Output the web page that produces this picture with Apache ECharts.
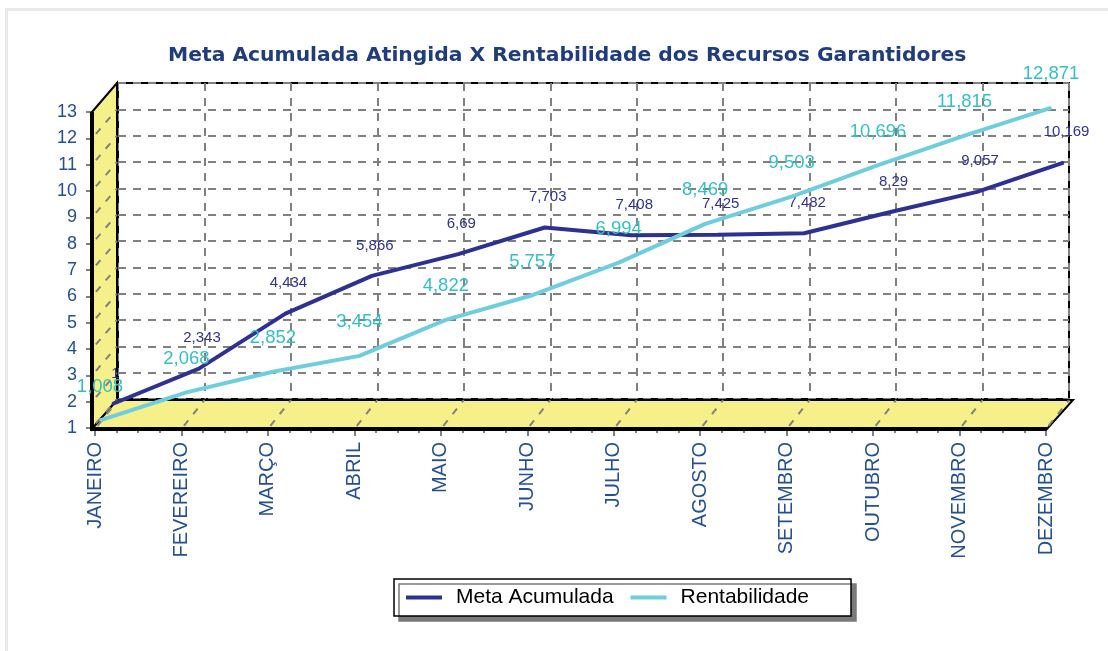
<!DOCTYPE html>
<html>
<head>
<meta charset="utf-8">
<script src="https://cdn.jsdelivr.net/npm/echarts@6/dist/echarts.min.js"></script>
<style>
html,body{margin:0;padding:0;background:#fff;}
#chart{width:1108px;height:651px;}
</style>
</head>
<body>
<div id="chart"></div>
<script>
// ---- data ----
const categories = ['JANEIRO','FEVEREIRO','MARÇO','ABRIL','MAIO','JUNHO','JULHO','AGOSTO','SETEMBRO','OUTUBRO','NOVEMBRO','DEZEMBRO'];
const metaAcumulada = [1, 2.343, 4.434, 5.866, 6.69, 7.703, 7.408, 7.425, 7.482, 8.29, 9.057, 10.169];
const rentabilidade = [1.008, 2.068, 2.852, 3.454, 4.822, 5.757, 6.994, 8.469, 9.503, 10.696, 11.815, 12.871];
const yMin = 1, yMax = 13, yStep = 1;

// ---- layout (3D-like projection: front plane, series depths, back wall) ----
const W = 951, H = 316;
const front = {left: 95, top: 112};
const rentG = {left: 100, top: 104.5};
const metaG = {left: 112.5, top: 88};
const back = {left: 118, top: 83};
const wallFrontX = 92, wallBackX = 117;
const floorFrontY = 429, floorBackY = 400;
const floorRightFront = 1047, floorRightBack = 1073;

const yellow = '#F6F08A';
const fmt = v => String(v).replace('.', ',');
const axisBlue = '#24508f';

const graphics = [];
// frame
graphics.push({type:'rect', shape:{x:5,y:8,width:1103,height:3}, style:{fill:'#e8e8e8'}, z:1});
graphics.push({type:'rect', shape:{x:5,y:8,width:3,height:643}, style:{fill:'#e8e8e8'}, z:1});
// left wall
graphics.push({type:'polygon', z:1, shape:{points:[[wallFrontX,front.top],[wallBackX,back.top],[wallBackX,floorBackY],[wallFrontX,floorFrontY]]},
  style:{fill:yellow, stroke:'#000', lineWidth:2}});
// floor
graphics.push({type:'polygon', z:1, shape:{points:[[wallFrontX,floorFrontY],[wallBackX,floorBackY],[floorRightBack,floorBackY],[floorRightFront,floorFrontY]]},
  style:{fill:yellow, stroke:'#000', lineWidth:2}});
// dashed grid continuation on floor
const dx = W / (categories.length - 1);
for (let i = 0; i < categories.length; i++) {
  graphics.push({type:'line', z:2, shape:{x1: front.left + i*dx, y1: floorFrontY, x2: back.left + i*dx, y2: floorBackY},
    style:{stroke:'#808080', lineWidth:2, lineDash:[7,8], lineDashOffset:-4}});
}
// dashed grid continuation on left wall
const dy = H / ((yMax - yMin) / yStep);
for (let v = yMin; v < yMax; v += yStep) {
  const k = (yMax - v) / yStep;
  graphics.push({type:'line', z:2, shape:{x1: wallFrontX, y1: front.top + k*dy, x2: wallBackX, y2: back.top + k*dy},
    style:{stroke:'#808080', lineWidth:2, lineDash:[7,8], lineDashOffset:-6}});
}
// thick front edges
graphics.push({type:'line', z:3, shape:{x1:wallFrontX,y1:floorFrontY,x2:floorRightFront,y2:floorFrontY}, style:{stroke:'#000', lineWidth:4}});
graphics.push({type:'line', z:3, shape:{x1:wallFrontX,y1:front.top,x2:wallFrontX,y2:floorFrontY+2}, style:{stroke:'#000', lineWidth:4}});

const hiddenX = (gi) => ({type:'category', gridIndex:gi, data:categories, boundaryGap:false, show:false});
const hiddenY = (gi) => ({type:'value', gridIndex:gi, min:yMin, max:yMax, interval:yStep, show:false});

const option = {
  backgroundColor:'#fff',
  animation:false,
  title:{
    text:'Meta Acumulada Atingida X Rentabilidade dos Recursos Garantidores',
    left:163, top:41,
    textStyle:{fontFamily:'DejaVu Sans', fontWeight:'bold', fontSize:20.3, color:'#1f3d7a'}
  },
  legend:{
    left:394, top:579,
    padding:[8,42,8,12],
    itemGap:17, itemWidth:36, itemHeight:4,
    backgroundColor:'#fff', borderColor:'#000', borderWidth:1.5,
    shadowColor:'#7a7a7a', shadowBlur:0, shadowOffsetX:5, shadowOffsetY:5,
    textStyle:{fontFamily:'Liberation Sans', fontSize:21, color:'#000', padding:[0,0,0,9]},
    data:[{name:'Meta Acumulada', icon:'rect'},{name:'Rentabilidade', icon:'rect'}]
  },
  graphic: graphics,
  grid:[
    {left:front.left, top:front.top, width:W, height:H},
    {left:rentG.left, top:rentG.top, width:W, height:H},
    {left:metaG.left, top:metaG.top, width:W, height:H},
    {left:back.left, top:back.top, width:W, height:H, show:true, backgroundColor:'#fff', borderColor:'#000', borderWidth:2, z:0}
  ],
  xAxis:[
    {type:'value', gridIndex:0, min:0, max:categories.length-1, interval:1,
     axisLine:{show:false},
     axisTick:{show:true, length:8, lineStyle:{color:'#808080', width:2}},
     minorTick:{show:true, splitNumber:4, length:5, lineStyle:{color:'#808080', width:2}},
     splitLine:{show:false},
     axisLabel:{rotate:90, margin:14, fontFamily:'Liberation Sans', fontSize:20, color:axisBlue,
       formatter:(v)=>categories[v] || ''}},
    hiddenX(1),
    hiddenX(2),
    {type:'category', gridIndex:3, data:categories, boundaryGap:false,
     axisLine:{show:false}, axisTick:{show:false}, axisLabel:{show:false},
     splitLine:{show:true, interval:0, lineStyle:{color:'#808080', width:2, type:[8,7]}}}
  ],
  yAxis:[
    {type:'value', gridIndex:0, min:yMin, max:yMax, interval:yStep, offset:3,
     axisLine:{show:false},
     axisTick:{show:true, length:9, lineStyle:{color:'#808080', width:2}},
     minorTick:{show:true, splitNumber:4, length:5, lineStyle:{color:'#808080', width:1.5}},
     splitLine:{show:false},
     axisLabel:{margin:15, fontFamily:'Liberation Sans', fontSize:18, color:axisBlue}},
    hiddenY(1),
    hiddenY(2),
    {type:'value', gridIndex:3, min:yMin, max:yMax, interval:yStep,
     axisLine:{show:false}, axisTick:{show:false}, axisLabel:{show:false},
     splitLine:{show:true, lineStyle:{color:'#808080', width:2, type:[8,7]}}}
  ],
  series:[
    {name:'Meta Acumulada', type:'line', xAxisIndex:2, yAxisIndex:2, data:metaAcumulada, z:10,
     symbol:'circle', symbolSize:2, showSymbol:true,
     itemStyle:{color:'#2e3192'},
     lineStyle:{color:'#2e3192', width:4},
     label:{show:true, position:'top', distance:22, offset:[3,0], formatter:(p)=>fmt(p.value),
       fontFamily:'Liberation Sans', fontSize:15, color:'#2e3192'}},
    {name:'Rentabilidade', type:'line', xAxisIndex:1, yAxisIndex:1, data:rentabilidade, z:11,
     symbol:'circle', symbolSize:2, showSymbol:true,
     itemStyle:{color:'#6fcde0'},
     lineStyle:{color:'#6fcde0', width:4},
     label:{show:true, position:'top', distance:23, formatter:(p)=>fmt(p.value),
       fontFamily:'Liberation Sans', fontSize:18.5, color:'#33bfc4'}}
  ]
};
const chart = echarts.init(document.getElementById('chart'));
chart.setOption(option);
</script>
</body>
</html>
